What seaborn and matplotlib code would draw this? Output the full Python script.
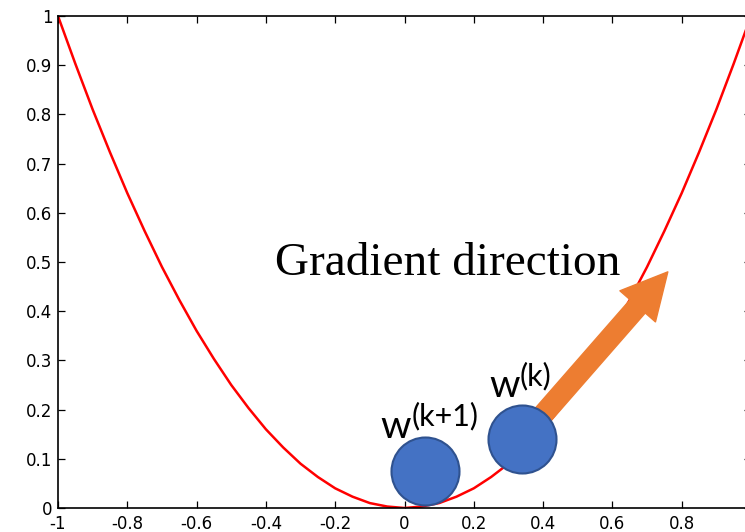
import matplotlib
matplotlib.use("Agg")
import matplotlib.pyplot as plt
import seaborn as sns
import pandas as pd

# parabola (x, cost)
x_vals = [-1.0, -0.95, -0.9, -0.85, -0.8, -0.75, -0.7, -0.65, -0.6, -0.55, -0.5,
          -0.45, -0.4, -0.35, -0.3, -0.25, -0.2, -0.15, -0.1, -0.05, 0.0,
          0.05, 0.1, 0.15, 0.2, 0.25, 0.3, 0.35, 0.4, 0.45, 0.5,
          0.55, 0.6, 0.65, 0.7, 0.75, 0.8, 0.85, 0.9, 0.95, 1.0]
y_vals = [1.0, 0.903, 0.81, 0.723, 0.64, 0.563, 0.49, 0.423, 0.36, 0.303, 0.25,
          0.203, 0.16, 0.123, 0.09, 0.063, 0.04, 0.023, 0.01, 0.003, 0.0,
          0.003, 0.01, 0.023, 0.04, 0.063, 0.09, 0.123, 0.16, 0.203, 0.25,
          0.303, 0.36, 0.423, 0.49, 0.563, 0.64, 0.723, 0.81, 0.903, 1.0]

# the two iterates
w_names = ["w(k+1)", "w(k)"]
w_x = [0.059, 0.338]
w_y = [0.075, 0.140]

# gradient arrow (from w(k) towards the tip)
arrow_start = (0.338, 0.140)
arrow_tip = (0.760, 0.480)

# the tick at 1 sits just past the cropped right edge, so no label there
x_ticks = [-1, -0.8, -0.6, -0.4, -0.2, 0, 0.2, 0.4, 0.6, 0.8]
x_labels = ["-1", "-0.8", "-0.6", "-0.4", "-0.2", "0", "0.2", "0.4", "0.6", "0.8"]
y_ticks = [0, 0.1, 0.2, 0.3, 0.4, 0.5, 0.6, 0.7, 0.8, 0.9, 1]
y_labels = ["0", "0.1", "0.2", "0.3", "0.4", "0.5", "0.6", "0.7", "0.8", "0.9", "1"]

sns.set_style("ticks")
plt.rcParams["font.family"] = ["DejaVu Sans"]
plt.rcParams["text.color"] = "black"

curve = pd.DataFrame({"x": x_vals, "y": y_vals})
points = pd.DataFrame({"name": w_names, "x": w_x, "y": w_y})

fig = plt.figure(figsize=(7.45, 5.32), dpi=100)
ax = fig.add_axes([58 / 745, 24 / 532, 693 / 745, 492 / 532])

sns.lineplot(data=curve, x="x", y="y", color="red", linewidth=1.8, ax=ax, zorder=2)

ax.annotate("", xy=arrow_tip, xytext=arrow_start,
            arrowprops=dict(arrowstyle="simple,head_length=3.3,head_width=3.4,tail_width=1.45",
                            mutation_scale=10, color="#ED7D31", shrinkA=0, shrinkB=0),
            zorder=3)

sns.scatterplot(data=points, x="x", y="y", s=2397, color="#4472C4",
                edgecolor="#2F528F", linewidth=1.5, ax=ax, zorder=4, legend=False)

# labels
ax.text(-0.374, 0.474, "Gradient direction", fontsize=34, family="Liberation Serif",
        color="black", ha="left", va="baseline")
ax.text(-0.071, 0.142, "w", fontsize=28, family="Lato", color="black",
        ha="left", va="baseline")
ax.text(0.022, 0.167, "(k+1)", fontsize=22, family="Lato", color="black",
        ha="left", va="baseline")
ax.text(0.246, 0.226, "w", fontsize=28, family="Lato", color="black",
        ha="left", va="baseline")
ax.text(0.331, 0.249, "(k)", fontsize=22, family="Lato", color="black",
        ha="left", va="baseline")

ax.set_xlim(-1, 1)
ax.set_ylim(0, 1)
ax.set_xticks(x_ticks)
ax.set_xticklabels(x_labels)
ax.set_yticks(y_ticks)
ax.set_yticklabels(y_labels)
ax.set_xlabel("")
ax.set_ylabel("")
ax.tick_params(direction="in", length=5, width=0.9, top=True, right=True,
               labelsize=12, colors="black")
ax.tick_params(axis="x", pad=5)
ax.tick_params(axis="y", pad=4)
for sp in ax.spines.values():
    sp.set_visible(True)
    sp.set_linewidth(1.2)
    sp.set_color("black")

fig.savefig("out.png", dpi=100)
